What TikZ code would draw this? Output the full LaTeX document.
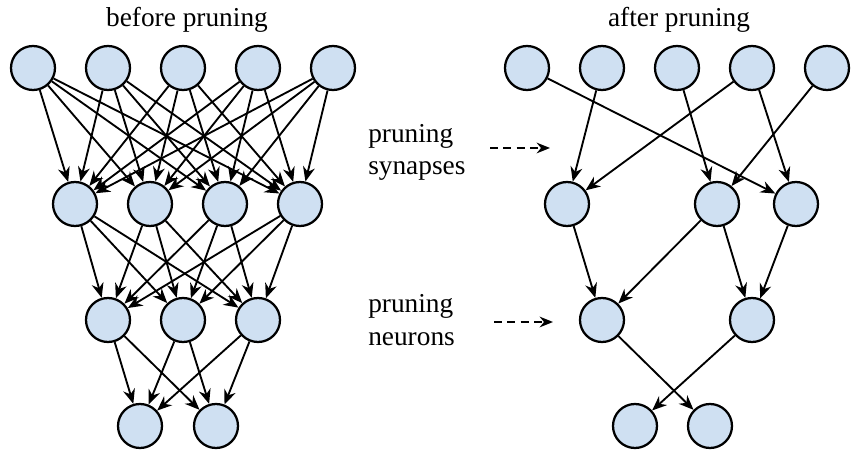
\documentclass[tikz,border=0pt]{standalone}
\usepackage{fontspec}
\setmainfont{Liberation Serif}
\usepackage{xcolor}
\usetikzlibrary{arrows.meta}
\tikzset{>=latex}
\definecolor{nodeblue}{RGB}{207,224,242}
\tikzset{
	neuron/.style={circle,draw,line width=1.7pt,fill=nodeblue,minimum size=33pt,inner sep=0pt},
	syn/.style={->,line width=1.4pt,>={Stealth[length=11pt,width=9pt]}},
	pruned/.style={->,line width=1.5pt,dash pattern=on 6pt off 4pt,>={Stealth[length=10pt,width=8pt]}},
	caption/.style={font=\fontsize{20.5pt}{24pt}\selectfont,inner sep=0pt},
}

\begin{document}
\begin{tikzpicture}[x=0.75pt,y=-0.75pt]
	\useasboundingbox (0,0) rectangle (868,466);
	% before pruning
	\node[caption,anchor=base] (before) at (187,27) {before pruning};
	\foreach \n/\x in {1/33,2/108,3/183,4/258,5/333}
		\node[neuron] (a1\n) at (\x,68) {};
	\foreach \n/\x in {1/75,2/150,3/225,4/300}
		\node[neuron] (a2\n) at (\x,204) {};
	\foreach \n/\x in {1/108,2/183,3/258}
		\node[neuron] (a3\n) at (\x,320) {};
	\foreach \n/\x in {1/140,2/216}
		\node[neuron] (a4\n) at (\x,426) {};
	\foreach \i in {1,...,5}
		\foreach \j in {1,...,4}
			\draw[syn] (a1\i) -- (a2\j);
	\foreach \i in {1,...,4}
		\foreach \j in {1,...,3}
			\draw[syn] (a2\i) -- (a3\j);
	\foreach \i in {1,...,3}
		\foreach \j in {1,2}
			\draw[syn] (a3\i) -- (a4\j);
	% after pruning
	\node[caption,anchor=base] (after) at (679,27) {after pruning};
	\foreach \n/\x in {1/527,2/602,3/677,4/752,5/827}
		\node[neuron] (b1\n) at (\x,68) {};
	\foreach \n/\x in {1/567,2/717,3/796}
		\node[neuron] (b2\n) at (\x,204) {};
	\foreach \n/\x in {1/602,2/752}
		\node[neuron] (b3\n) at (\x,320) {};
	\foreach \n/\x in {1/635,2/710}
		\node[neuron] (b4\n) at (\x,426) {};
	\foreach \s/\t in {b11/b23,b12/b21,b13/b22,b14/b21,b14/b23,b15/b22,
		b21/b31,b22/b31,b22/b32,b23/b32,b31/b42,b32/b41}
		\draw[syn] (\s) -- (\t);
	% labels in the middle
	\node[caption,anchor=base west] (syn1) at (368,143) {pruning};
	\node[caption,anchor=base west] (syn2) at (368,175) {synapses};
	\node[caption,anchor=base west] (neu1) at (368,313) {pruning};
	\node[caption,anchor=base west] (neu2) at (368,346) {neurons};
	\coordinate (s0) at (490,148);
	\coordinate (s1) at (550,148);
	\coordinate (n0) at (494,322);
	\coordinate (n1) at (553,322);
	\draw[pruned] (s0) -- (s1);
	\draw[pruned] (n0) -- (n1);
\end{tikzpicture}
\end{document}
